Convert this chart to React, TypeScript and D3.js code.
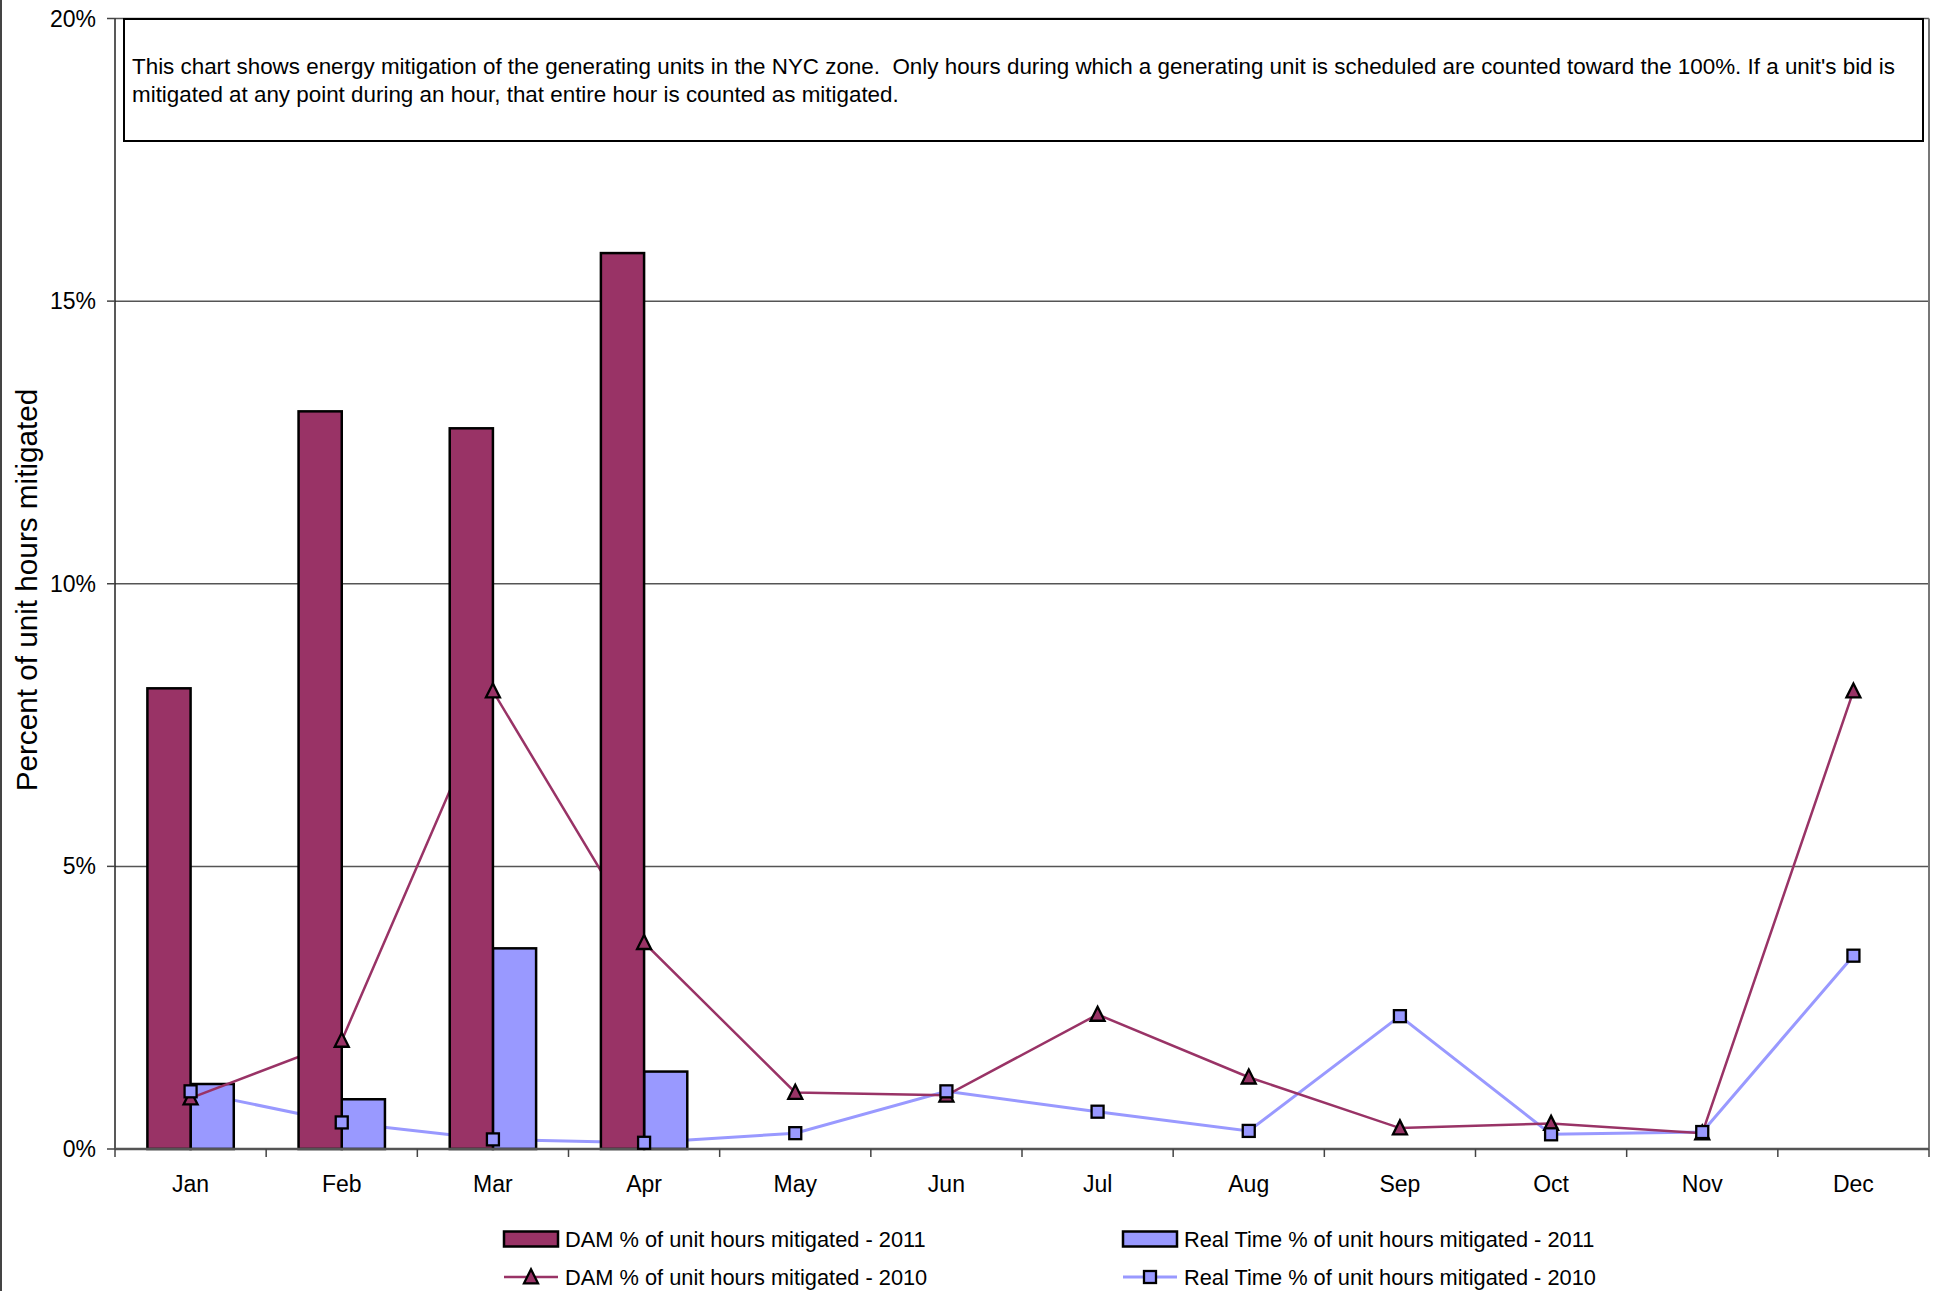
import React, { useEffect } from "react";
import * as d3 from "d3";

const months = ["Jan", "Feb", "Mar", "Apr", "May", "Jun", "Jul", "Aug", "Sep", "Oct", "Nov", "Dec"];
const dam2011: (number | null)[] = [8.15, 13.05, 12.75, 15.85, null, null, null, null, null, null, null, null];
const rt2011: (number | null)[] = [1.15, 0.88, 3.55, 1.37, null, null, null, null, null, null, null, null];
const dam2010 = [0.9, 1.92, 8.1, 3.65, 1.0, 0.95, 2.38, 1.27, 0.37, 0.45, 0.28, 8.1];
const rt2010 = [1.02, 0.47, 0.17, 0.11, 0.28, 1.02, 0.66, 0.32, 2.35, 0.26, 0.3, 3.42];
const yTicks = [0, 5, 10, 15, 20];
const noteLines = [
  "This chart shows energy mitigation of the generating units in the NYC zone.  Only hours during which a generating unit is scheduled are counted toward the 100%. If a unit's bid is",
  "mitigated at any point during an hour, that entire hour is counted as mitigated.",
];
const legendItems = [
  { label: "DAM % of unit hours mitigated - 2011", kind: "bar", color: "#993366" },
  { label: "Real Time % of unit hours mitigated - 2011", kind: "bar", color: "#9999FF" },
  { label: "DAM % of unit hours mitigated - 2010", kind: "tri", color: "#993366" },
  { label: "Real Time % of unit hours mitigated - 2010", kind: "sq", color: "#9999FF" },
];
const yTitle = "Percent of unit hours mitigated";

const W = 1937;
const H = 1291;
const FONT = "'Liberation Sans', Arial, Helvetica, sans-serif";
const DAM = "#993366";
const RT = "#9999FF";

export default function App() {
  useEffect(() => {
    document.body.style.margin = "0";
    document.body.style.overflow = "hidden";
  }, []);

  const left = 115, right = 1929, top = 18.5, bottom = 1149;
  const x = d3.scaleBand<string>().domain(months).range([left, right]).padding(0);
  const bw = x.bandwidth();
  const barW = bw / 3.5;
  const cx = (m: string) => (x(m) as number) + bw / 2;
  const y = d3.scaleLinear().domain([0, 20]).range([bottom, top]);

  const lineGen = d3
    .line<number>()
    .x((_, i) => cx(months[i]))
    .y((d) => y(d));

  const triPath = (px: number, py: number, s = 14) =>
    `M${px},${py - s * 0.55}L${px + s / 2},${py + s * 0.45}L${px - s / 2},${py + s * 0.45}Z`;
  const SQ = 12;

  return (
    <svg width={W} height={H} style={{ position: "absolute", left: 0, top: 0, display: "block", background: "#fff" }} fontFamily={FONT}>
      <rect x={0} y={0} width={W} height={H} fill="#fff" />
      <line x1={1} y1={0} x2={1} y2={H} stroke="#444" strokeWidth={2} />

      {yTicks.map((t) =>
        t === 0 ? null : (
          <line key={"g" + t} x1={left} x2={right} y1={y(t)} y2={y(t)} stroke="#555" strokeWidth={1.5} />
        )
      )}
      <line x1={right} x2={right} y1={top} y2={bottom} stroke="#777" strokeWidth={2} />

      <line x1={left} x2={left} y1={top} y2={bottom} stroke="#222" strokeWidth={1.5} />
      {yTicks.map((t) => (
        <g key={"yt" + t}>
          <line x1={left - 8} x2={left} y1={y(t)} y2={y(t)} stroke="#444" strokeWidth={1.5} />
          <text x={96} y={y(t)} dy="0.35em" textAnchor="end" fontSize={23} fill="#000">
            {t + "%"}
          </text>
        </g>
      ))}

      <path d={lineGen(rt2010) || ""} fill="none" stroke={RT} strokeWidth={3} />

      {rt2011.map((v, i) =>
        v == null ? null : (
          <rect key={"rt" + i} x={cx(months[i])} y={y(v)} width={barW} height={y(0) - y(v)} fill={RT} stroke="#000" strokeWidth={2.5} />
        )
      )}

      <path d={lineGen(dam2010) || ""} fill="none" stroke={DAM} strokeWidth={2.5} />

      {dam2011.map((v, i) =>
        v == null ? null : (
          <rect key={"dam" + i} x={cx(months[i]) - barW} y={y(v)} width={barW} height={y(0) - y(v)} fill={DAM} stroke="#000" strokeWidth={2.5} />
        )
      )}

      <line x1={left} x2={right} y1={bottom} y2={bottom} stroke="#555" strokeWidth={2.5} />
      {months.map((m, i) => (
        <line key={"xt" + i} x1={x(m) as number} x2={x(m) as number} y1={bottom} y2={bottom + 8} stroke="#444" strokeWidth={1.5} />
      ))}
      <line x1={right} x2={right} y1={bottom} y2={bottom + 8} stroke="#444" strokeWidth={1.5} />
      {months.map((m) => (
        <text key={"xl" + m} x={cx(m)} y={1184} dy="0.35em" textAnchor="middle" fontSize={23} fill="#000">
          {m}
        </text>
      ))}

      {dam2010.map((v, i) => (
        <path key={"tri" + i} d={triPath(cx(months[i]), y(v))} fill={DAM} stroke="#000" strokeWidth={2.3} />
      ))}
      {rt2010.map((v, i) => (
        <rect key={"sq" + i} x={cx(months[i]) - SQ / 2} y={y(v) - SQ / 2} width={SQ} height={SQ} fill={RT} stroke="#000" strokeWidth={2.3} />
      ))}

      <rect x={124} y={19} width={1799} height={122} fill="#fff" stroke="#000" strokeWidth={2} />
      {noteLines.map((l, i) => (
        <text key={"n" + i} x={132} y={66 + i * 28} dy="0.35em" fontSize={22.4} fill="#000" style={{ whiteSpace: "pre" }}>
          {l}
        </text>
      ))}

      <text transform={`translate(27,590) rotate(-90)`} textAnchor="middle" dy="0.35em" fontSize={29.7} fill="#000">
        {yTitle}
      </text>

      {legendItems.map((it, i) => {
        const lx = i % 2 === 0 ? 504 : 1123;
        const ly = i < 2 ? 1239 : 1277;
        return (
          <g key={"lg" + i}>
            {it.kind === "bar" ? (
              <rect x={lx} y={ly - 7.5} width={54} height={15} fill={it.color} stroke="#000" strokeWidth={2.5} />
            ) : (
              <line x1={lx} x2={lx + 54} y1={ly} y2={ly} stroke={it.color} strokeWidth={it.kind === "sq" ? 3 : 2.5} />
            )}
            {it.kind === "tri" && <path d={triPath(lx + 27, ly)} fill={it.color} stroke="#000" strokeWidth={2.3} />}
            {it.kind === "sq" && <rect x={lx + 27 - SQ / 2} y={ly - SQ / 2} width={SQ} height={SQ} fill={it.color} stroke="#000" strokeWidth={2.3} />}
            <text x={lx + 61} y={ly} dy="0.35em" fontSize={21.8} fill="#000">
              {it.label}
            </text>
          </g>
        );
      })}
    </svg>
  );
}
